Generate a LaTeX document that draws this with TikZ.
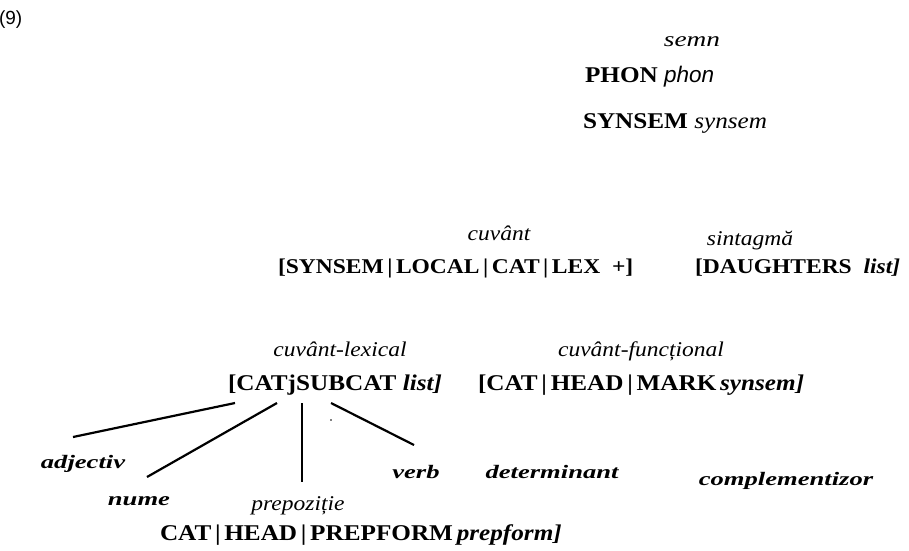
\documentclass[tikz,border=0pt]{standalone}
\usepackage{fontspec}
\setmainfont{Liberation Serif}[FakeStretch=1.12]
\newfontfamily\arialfont{Liberation Sans}
\newfontfamily\leaffont{Liberation Serif}[FakeStretch=1.4]
\newfontfamily\wideit{Liberation Serif}[FakeStretch=1.3]
\begin{document}
\begin{tikzpicture}[x=1pt,y=-1pt,
  every node/.style={inner sep=0pt, outer sep=0pt, anchor=base},
  bt/.style={font=\fontsize{22.5}{26}\selectfont\bfseries, anchor=base west},
  btr/.style={font=\fontsize{21}{25}\selectfont\bfseries, anchor=base west},
  it/.style={font=\fontsize{21}{25}\selectfont\itshape},
  leaf/.style={font=\leaffont\fontsize{19}{23}\selectfont\bfseries\itshape},
  edge/.style={line width=2.2pt}]
\useasboundingbox (0,0) rectangle (909,550);
% top
\node[font=\arialfont\fontsize{19}{21}\selectfont, anchor=base west] (num) at (-1,24) {(9)};
\node[font=\wideit\fontsize{21}{25}\selectfont\itshape] (semn) at (692,46) {semn};
\node[bt] (phon) at (585,82) {PHON \textmd{\arialfont\itshape phon}};
\node[bt] (syn) at (583,128) {SYNSEM \textmd{\itshape synsem}};
% second level
\node[it] (cuv) at (499,240) {cuvânt};
\node[btr] (cuvf) at (278,273) {[SYNSEM\,|\,LOCAL\,|\,CAT\,|\,LEX~~+]};
\node[it] (sint) at (750,245) {sintagmă};
\node[btr] (sintf) at (695,273) {[DAUGHTERS~~\textit{list]}};
% third level
\node[it] (cl) at (340,356) {cuvânt-lexical};
\node[bt] (clf) at (228,390) {[CATjSUBCAT \textit{list]}};
\node[it] (cf) at (641,356) {cuvânt-funcțional};
\node[bt] (cff) at (478,390) {[CAT\,|\,HEAD\,|\,MARK\,\textit{synsem]}};
% leaves
\node[leaf] (adj) at (83,468) {adjectiv};
\node[leaf] (num2) at (139,505) {nume};
\node[it] (prep) at (298,510) {prepoziție};
\node[leaf] (verb) at (416,478) {verb};
\node[leaf] (det) at (552,478) {determinant};
\node[leaf] (comp) at (786,485) {complementizor};
\node[bt] (pf) at (160,540) {CAT\,|\,HEAD\,|\,PREPFORM\,\textit{prepform]}};
% connectors
\coordinate (a1) at (235,403); \coordinate (a2) at (73,437);
\coordinate (n1) at (277,403); \coordinate (n2) at (147,477);
\coordinate (p1) at (302,403); \coordinate (p2) at (302,482);
\coordinate (v1) at (331,403); \coordinate (v2) at (414,445);
\draw[edge] (a1) -- (a2);
\draw[edge] (n1) -- (n2);
\draw[edge] (p1) -- (p2);
\draw[edge] (v1) -- (v2);
\fill (331,420) circle (0.8pt);
\end{tikzpicture}
\end{document}
